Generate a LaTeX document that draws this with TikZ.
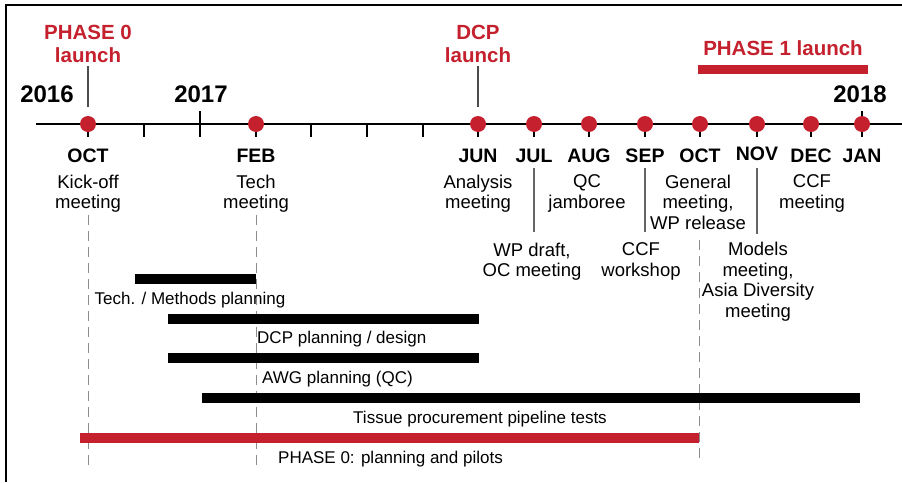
\documentclass[tikz,border=0pt]{standalone}
\usepackage{fontspec}
\setmainfont{Liberation Sans}
\definecolor{phred}{RGB}{196,32,45}
\begin{document}
\begin{tikzpicture}[x=1pt,y=-1pt,
  year/.style={font=\fontsize{24}{26}\selectfont\bfseries, anchor=base, inner sep=0pt},
  launchlab/.style={font=\fontsize{20.5}{23}\selectfont\bfseries, text=phred, align=center, anchor=north, inner sep=0pt},
  month/.style={font=\fontsize{19.5}{22}\selectfont\bfseries, anchor=base, inner sep=0pt},
  desc/.style={font=\fontsize{18.5}{20.5}\selectfont, align=center, anchor=north, inner sep=0pt},
  barlab/.style={font=\fontsize{17}{20}\selectfont, anchor=base, inner sep=0pt},
  dot/.style={circle, fill=phred, inner sep=0pt, minimum size=16pt},
  blackbar/.style={line width=9.5pt},
  redbar/.style={line width=10pt, draw=phred},
  axistick/.style={line width=1.8pt},
  guide/.style={draw=black!45, line width=1pt, dash pattern=on 10pt off 6pt},
  vline/.style={draw=black!60, line width=1.2pt},
  launchline/.style={draw=black!70, line width=1.2pt}]
\useasboundingbox (0,0) rectangle (902,482);
% frame
\draw[line width=2.2pt] (6,482) -- (6,5) -- (902,5);
% dashed guides
\draw[guide] (88,215) -- (88,465);
\draw[guide] (256,215) -- (256,465);
\draw[guide] (699,240) -- (699,463);
% axis
\draw[line width=2pt] (36,124) -- (902,124);
\foreach \x in {88,144,256,311,367,423,478,534,589,645,700,757,811}
  \draw[axistick] (\x,124) -- (\x,137);
\draw[axistick] (200,111) -- (200,137);
\draw[axistick] (862,111) -- (862,137);
% dots
\node[dot] (oct16) at (88,124) {};
\node[dot] (feb) at (256,124) {};
\node[dot] (jun) at (478,124) {};
\node[dot] (jul) at (534,124) {};
\node[dot] (aug) at (589,124) {};
\node[dot] (sep) at (645,124) {};
\node[dot] (oct) at (700,124) {};
\node[dot] (nov) at (757,124) {};
\node[dot] (dec) at (811,124) {};
\node[dot] (jan) at (862,124) {};
% years
\node[year] (y16) at (47,102) {2016};
\node[year] (y17) at (201,102) {2017};
\node[year] (y18) at (860,102) {2018};
% launches
\node[launchlab] (p0) at (88,24.5) {PHASE 0\\launch};
\node[launchlab] (dcp) at (478,24.5) {DCP\\launch};
\node[launchlab, anchor=base] (p1) at (783,55) {PHASE 1 launch};
\draw[line width=9pt, draw=phred] (698,69) -- (868,69);
\coordinate (p0top) at (88,66);
\coordinate (dcptop) at (478,66);
\draw[launchline] (p0top) -- ([yshift=9pt]oct16.north);
\draw[launchline] (dcptop) -- ([yshift=9pt]jun.north);
% months
\node[month] (moct16) at (88,162) {OCT};
\node[month] (mfeb) at (256,162) {FEB};
\node[month] (mjun) at (478,162) {JUN};
\node[month] (mjul) at (534,162) {JUL};
\node[month] (maug) at (589,162) {AUG};
\node[month] (msep) at (645,162) {SEP};
\node[month] (moct) at (700,162) {OCT};
\node[month] (mnov) at (757,160) {NOV};
\node[month] (mdec) at (811,162) {DEC};
\node[month] (mjan) at (862,162) {JAN};
% descriptions
\node[desc] (dkick) at (88,174.5) {Kick-off\\meeting};
\node[desc] (dtech) at (256,174.5) {Tech\\meeting};
\node[desc] (dana) at (478,174.5) {Analysis\\meeting};
\node[desc] (dqc) at (587,174.5) {QC\\jamboree};
\node[desc] (dgen) at (698,174.5) {General\\meeting,\\WP release};
\node[desc] (dccf) at (812,174.5) {CCF\\meeting};
\node[desc] (dwp) at (532,242.5) {WP draft,\\OC meeting};
\node[desc] (dccfw) at (641,242.5) {CCF\\workshop};
\node[desc] (dmod) at (758,242) {Models\\meeting,\\Asia Diversity\\meeting};
% solid guide lines
\coordinate (ljul1) at (534,168); \coordinate (ljul2) at (534,232);
\coordinate (lsep1) at (645,168); \coordinate (lsep2) at (645,232);
\coordinate (lnov1) at (757,168); \coordinate (lnov2) at (757,234);
\draw[vline] (ljul1) -- (ljul2);
\draw[vline] (lsep1) -- (lsep2);
\draw[vline] (lnov1) -- (lnov2);
% bars
\draw[blackbar] (135,279) -- (256,279);
\node[barlab] (btech) at (190,304) {Tech. / Methods planning};
\draw[blackbar] (168,319) -- (479,319);
\node[barlab, anchor=base west] (bdcp) at (257,343) {DCP planning / design};
\draw[blackbar] (168,358) -- (479,358);
\node[barlab, anchor=base west] (bawg) at (262,383) {AWG planning (QC)};
\draw[blackbar] (202,398) -- (860,398);
\node[barlab] (btis) at (480,423) {Tissue procurement pipeline tests};
\draw[redbar] (80,438) -- (699,438);
\node[barlab, anchor=base west] (bp0) at (278,463) {PHASE 0: planning and pilots};
\end{tikzpicture}
\end{document}
